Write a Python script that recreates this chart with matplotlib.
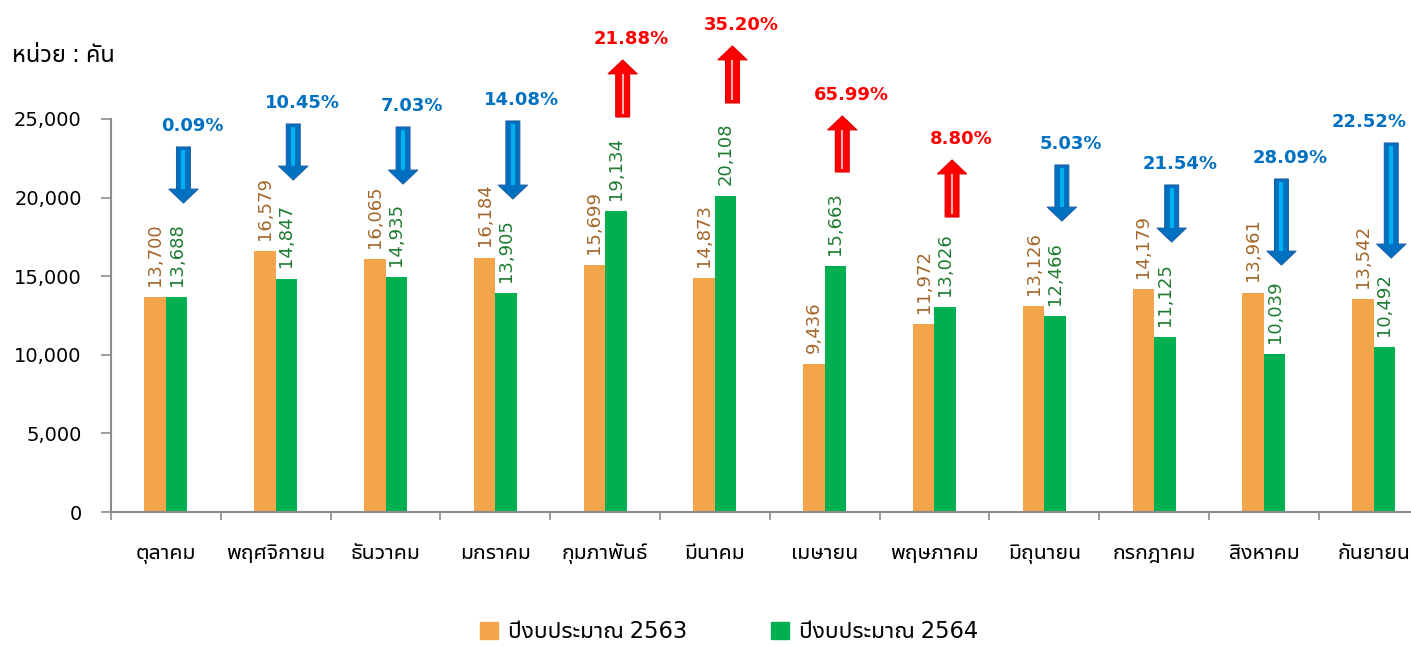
import matplotlib
matplotlib.use("Agg")
import matplotlib.pyplot as plt
from matplotlib import font_manager, ft2font
from matplotlib.patches import Patch

# ---------------- data ----------------
months = ["ตุลาคม", "พฤศจิกายน", "ธันวาคม", "มกราคม", "กุมภาพันธ์", "มีนาคม",
          "เมษายน", "พฤษภาคม", "มิถุนายน", "กรกฎาคม", "สิงหาคม", "กันยายน"]
fy2563 = [13700, 16579, 16065, 16184, 15699, 14873, 9436, 11972, 13126, 14179, 13961, 13542]
fy2564 = [13688, 14847, 14935, 13905, 19134, 20108, 15663, 13026, 12466, 11125, 10039, 10492]
pct_change = ["0.09%", "10.45%", "7.03%", "14.08%", "21.88%", "35.20%",
              "65.99%", "8.80%", "5.03%", "21.54%", "28.09%", "22.52%"]
series_names = ["ปีงบประมาณ 2563", "ปีงบประมาณ 2564"]
unit_label = "หน่วย : คัน"
yticks = [0, 5000, 10000, 15000, 20000, 25000]

# annotation layout (arrow ends in axis units)
arrow_top = [23219, 24682, 24491, 24873, 28753, 29644, 25191, 22392, 22074, 20802, 21183, 23473]
arrow_bot = [19656, 21120, 20865, 19911, 25127, 26018, 21628, 18766, 18511, 17176, 15712, 16158]

# ---------------- fonts ----------------
thai = []
for f in font_manager.fontManager.ttflist:
    try:
        if 0x0E01 in ft2font.FT2Font(f.fname).get_charmap():
            if f.name not in thai:
                thai.append(f.name)
    except Exception:
        pass
pref = ["Noto Sans Thai UI", "Noto Sans Thai", "IBM Plex Sans Thai", "Loma"]
chosen = [p for p in pref if p in thai][:1] or thai[:1]
fam = chosen + ["DejaVu Sans"]
plt.rcParams["font.family"] = fam

C_OR = "#F2A54A"
C_GR = "#00B050"
C_ORT = "#A3662A"
C_GRT = "#1E7B30"
C_AX = "#8C8C8C"

fig = plt.figure(figsize=(14.11, 6.46), dpi=100)
ax = fig.add_axes([111 / 1411, (646 - 512) / 646, 1317.6 / 1411, 393 / 646])

x = list(range(len(months)))
w = 0.195
ax.bar([i - w / 2 for i in x], fy2563, width=w, color=C_OR, zorder=2)
ax.bar([i + w / 2 for i in x], fy2564, width=w, color=C_GR, zorder=2)

for i in x:
    ax.annotate(f"{fy2563[i]:,}", (i - w / 2, fy2563[i]), xytext=(0, 8),
                textcoords="offset points", rotation=90, ha="center", va="bottom",
                fontsize=13, color=C_ORT, family="DejaVu Sans")
    ax.annotate(f"{fy2564[i]:,}", (i + w / 2, fy2564[i]), xytext=(0, 8),
                textcoords="offset points", rotation=90, ha="center", va="bottom",
                fontsize=13, color=C_GRT, family="DejaVu Sans")

ax.set_xlim(-0.5, len(months) - 0.5)
ax.set_ylim(0, 25000)
ax.set_yticks(yticks)
ax.set_yticklabels([f"{v:,}" for v in yticks], fontsize=14, family="DejaVu Sans")
ax.set_xticks(x)
ax.set_xticklabels(months, fontsize=15.3)
for lab in ax.get_xticklabels():
    lab.set_va("baseline")
ax.set_xticks([i - 0.5 for i in x] + [len(months) - 0.5], minor=True)
ax.tick_params(axis="x", which="major", length=0, pad=34)
ax.tick_params(axis="x", which="minor", length=6, color=C_AX, width=1.2)
ax.tick_params(axis="y", length=7, color=C_AX, width=1.2, pad=14)
for s in ["top", "right"]:
    ax.spines[s].set_visible(False)
for s in ["left", "bottom"]:
    ax.spines[s].set_color(C_AX)
    ax.spines[s].set_linewidth(1.5)

# arrows
upp = 25000 / 393.0  # axis units per pixel
ax_x = 0.16
for i in x:
    up = fy2564[i] > fy2563[i]
    col = "#FF0000" if up else "#0070C0"
    inner = "#FFB0B0" if up else "#00B0F0"
    edge = "#E00000" if up else "#1F5FA8"
    xi = i + ax_x
    if up:
        tail, head = arrow_bot[i], arrow_top[i]
    else:
        tail, head = arrow_top[i], arrow_bot[i]
    ax.annotate("", xy=(xi, head), xytext=(xi, tail),
                arrowprops=dict(arrowstyle="simple,head_length=1.0,head_width=2.1,tail_width=1.0",
                                mutation_scale=10, fc=col, ec=edge, lw=0.8,
                                shrinkA=0, shrinkB=0),
                annotation_clip=False, zorder=3)
    d = 14 * upp * (1 if up else -1)
    ax.plot([xi, xi], [tail + (3 * upp if up else -3 * upp), head - d], color=inner,
            lw=3 if not up else 1.5, solid_capstyle="butt", zorder=4, clip_on=False)
    lx = xi + (0.08 if i < len(months) - 1 else -0.2)
    ax.text(lx, arrow_top[i] + 21 * upp, pct_change[i], ha="center", va="center",
            fontsize=13, fontweight="bold", color=col, family="DejaVu Sans",
            clip_on=False)

fig.text(12 / 1411, 1 - 55 / 646, unit_label, fontsize=17, ha="left", va="center")

handles = [Patch(color=C_OR), Patch(color=C_GR)]
fig.legend(handles, series_names, loc="center", bbox_to_anchor=(729 / 1411, 1 - 632 / 646),
           ncol=2, frameon=False, fontsize=16.3, handlelength=0.8, handleheight=0.8,
           columnspacing=3.7, handletextpad=0.45)

fig.savefig("out.png", dpi=100)
